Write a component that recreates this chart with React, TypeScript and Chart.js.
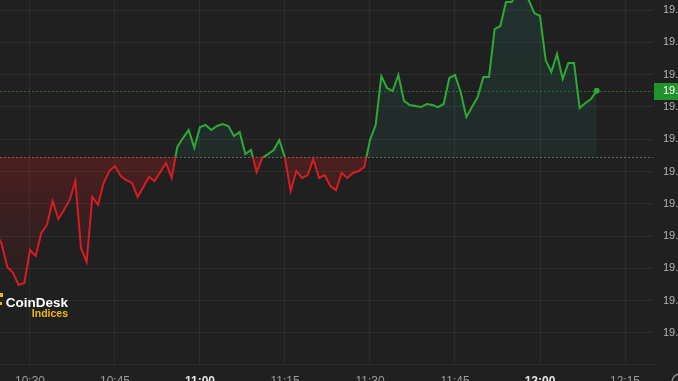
import React, { useEffect, useRef } from "react";
import { Chart, registerables } from "chart.js";

Chart.register(...registerables);

// ---- data ----
const times = [
  "10:24", "10:25", "10:26", "10:27", "10:28", "10:29", "10:30", "10:31", "10:32", "10:33",
  "10:34", "10:35", "10:36", "10:37", "10:38", "10:39", "10:40", "10:41", "10:42", "10:43",
  "10:44", "10:45", "10:46", "10:47", "10:48", "10:49", "10:50", "10:51", "10:52", "10:53",
  "10:54", "10:55", "10:56", "10:57", "10:58", "10:59", "11:00", "11:01", "11:02", "11:03",
  "11:04", "11:05", "11:06", "11:07", "11:08", "11:09", "11:10", "11:11", "11:12", "11:13",
  "11:14", "11:15", "11:16", "11:17", "11:18", "11:19", "11:20", "11:21", "11:22", "11:23",
  "11:24", "11:25", "11:26", "11:27", "11:28", "11:29", "11:30", "11:31", "11:32", "11:33",
  "11:34", "11:35", "11:36", "11:37", "11:38", "11:39", "11:40", "11:41", "11:42", "11:43",
  "11:44", "11:45", "11:46", "11:47", "11:48", "11:49", "11:50", "11:51", "11:52", "11:53",
  "11:54", "11:55", "11:56", "11:57", "11:58", "11:59", "12:00", "12:01", "12:02", "12:03",
  "12:04", "12:05", "12:06", "12:07", "12:08", "12:09", "12:10",
];

const prices = [
  19.4625, 19.4551, 19.4409, 19.4372, 19.4297, 19.431, 19.4514, 19.4477, 19.4619, 19.4669,
  19.4817, 19.4706, 19.4762, 19.4824, 19.4941, 19.4526, 19.444, 19.4842, 19.4793, 19.4929,
  19.5003, 19.5034, 19.4972, 19.4947, 19.4929, 19.4842, 19.4904, 19.4966, 19.4941, 19.4997,
  19.5053, 19.496, 19.5152, 19.5207, 19.5257, 19.5146, 19.5276, 19.5288, 19.5257, 19.5282,
  19.5294, 19.5282, 19.522, 19.5245, 19.5108, 19.5133, 19.4997, 19.5084, 19.5108, 19.5133,
  19.5195, 19.5084, 19.4879, 19.5003, 19.496, 19.4978, 19.5077, 19.496, 19.4978, 19.491,
  19.4885, 19.4991, 19.496, 19.4991, 19.5003, 19.5028, 19.5195, 19.5288, 19.5591, 19.5517,
  19.5498, 19.5598, 19.5437, 19.5412, 19.5406, 19.5399, 19.5418, 19.5412, 19.5399, 19.5418,
  19.5579, 19.5598, 19.5492, 19.5337, 19.5399, 19.5461, 19.5585, 19.5585, 19.5882, 19.5901,
  19.605, 19.605, 19.6111, 19.6099, 19.6062, 19.5981, 19.5963, 19.569, 19.5616, 19.5728,
  19.5573, 19.5672, 19.5672, 19.5393, 19.5424, 19.5449, 19.55,
];

const timeTicks = ["10:30", "10:45", "11:00", "11:15", "11:30", "11:45", "12:00", "12:15"];
const priceTicks = [19.4, 19.42, 19.44, 19.46, 19.48, 19.5, 19.52, 19.54, 19.56, 19.58, 19.6];
const prevClose = 19.509;
const lastPrice = 19.55;

// ---- styles ----
const BG = "rgb(32,32,32)";
const GRID = "rgba(255,255,255,0.055)";
const GREEN = "rgb(44,170,52)";
const RED = "rgb(214,28,36)";
const TICK = "#9c9c9c";
const FONT = "'Liberation Sans', Arial, sans-serif";

const toMin = (t: string) => {
  const [h, m] = t.split(":").map(Number);
  return h * 60 + m;
};

const lineGradient = (chart: any, stops: (s: number) => [number, string][]) => {
  const area = chart.chartArea;
  if (!area) return null;
  const y = chart.scales.y.getPixelForValue(prevClose);
  let s = (y - area.top) / (area.bottom - area.top);
  s = Math.max(0, Math.min(1, s));
  const g = chart.ctx.createLinearGradient(0, area.top, 0, area.bottom);
  stops(s).forEach(([o, c]) => g.addColorStop(o, c));
  return g;
};

const overlayPlugin = {
  id: "overlay",
  beforeDatasetsDraw(chart: any) {
    const { ctx, chartArea, scales } = chart;
    ctx.save();
    ctx.lineWidth = 1;
    // previous close line
    const yb = Math.round(scales.y.getPixelForValue(prevClose)) + 0.5;
    ctx.setLineDash([2, 2]);
    ctx.strokeStyle = "rgba(150,150,150,0.6)";
    ctx.beginPath();
    ctx.moveTo(chartArea.left, yb);
    ctx.lineTo(chartArea.right, yb);
    ctx.stroke();
    // last price line
    const yl = Math.round(scales.y.getPixelForValue(lastPrice)) + 0.5;
    ctx.strokeStyle = "rgba(44,170,52,0.55)";
    ctx.beginPath();
    ctx.moveTo(chartArea.left, yl);
    ctx.lineTo(chartArea.right, yl);
    ctx.stroke();
    ctx.restore();
  },
  afterDraw(chart: any) {
    const { ctx, chartArea, scales, width, height } = chart;
    ctx.save();
    // price badge
    const yl = scales.y.getPixelForValue(lastPrice);
    ctx.fillStyle = "rgb(34,146,44)";
    ctx.fillRect(chartArea.right + 1, Math.round(yl) - 8, 40, 17);
    ctx.fillStyle = "#ffffff";
    ctx.font = `11px ${FONT}`;
    ctx.textAlign = "left";
    ctx.textBaseline = "middle";
    ctx.fillText(lastPrice.toFixed(2), chartArea.right + 10, yl + 0.5);
    // CoinDesk Indices logo
    ctx.fillStyle = "#f2b705";
    ctx.fillRect(0, 293, 3, 4);
    ctx.fillRect(0, 302, 2, 3);
    ctx.textAlign = "right";
    ctx.textBaseline = "alphabetic";
    ctx.fillStyle = "#ffffff";
    ctx.font = `bold 13.5px ${FONT}`;
    ctx.fillText("CoinDesk", 68, 307);
    ctx.fillStyle = "#f2b705";
    ctx.font = `bold 10.5px ${FONT}`;
    ctx.fillText("Indices", 68, 317);
    // partial logo at bottom right
    ctx.strokeStyle = "#8a8a8a";
    ctx.lineWidth = 1.5;
    ctx.beginPath();
    ctx.arc(width + 2, height + 1, 8, 0, Math.PI * 2);
    ctx.stroke();
    ctx.restore();
  },
};

export default function App() {
  const ref = useRef<HTMLCanvasElement | null>(null);

  useEffect(() => {
    if (!ref.current) return;
    const data = times.map((t, i) => ({ x: toMin(t), y: prices[i] }));
    const start = toMin("10:30");
    const chart = new Chart(ref.current, {
      type: "line",
      data: {
        datasets: [
          {
            data,
            borderWidth: 2,
            tension: 0,
            borderColor: (c: any) =>
              lineGradient(c.chart, (s) => [
                [0, GREEN],
                [s, GREEN],
                [s, RED],
                [1, RED],
              ]) || GREEN,
            backgroundColor: (c: any) =>
              lineGradient(c.chart, (s) => [
                [0, "rgba(40,165,135,0.13)"],
                [s, "rgba(40,165,135,0.09)"],
                [s, "rgba(200,30,30,0.26)"],
                [Math.min(1, s + (1 - s) * 0.65), "rgba(200,30,30,0.03)"],
                [1, "rgba(200,30,30,0.0)"],
              ]) || "transparent",
            fill: { value: prevClose },
            pointRadius: (c: any) => (c.dataIndex === prices.length - 1 ? 3 : 0),
            pointBackgroundColor: GREEN,
            pointBorderWidth: 0,
            pointHoverRadius: 0,
          },
        ],
      },
      options: {
        animation: false,
        responsive: false,
        devicePixelRatio: 1,
        layout: { padding: 0, autoPadding: false },
        plugins: { legend: { display: false }, tooltip: { enabled: false } },
        scales: {
          x: {
            type: "linear",
            min: start - 5.29,
            max: start + 109.94,
            afterBuildTicks: (s: any) => {
              s.ticks = timeTicks.map((t) => ({ value: toMin(t) }));
            },
            afterFit: (s: any) => {
              s.height = 17;
              s.paddingLeft = 0;
              s.paddingRight = 0;
              s.paddingTop = 0;
              s.paddingBottom = 0;
            },
            grid: { color: GRID, drawTicks: false },
            border: { display: true, color: GRID },
            ticks: {
              padding: 10,
              maxRotation: 0,
              autoSkip: false,
              callback: (v: any) => {
                const m = Number(v);
                const h = Math.floor(m / 60);
                const mm = m % 60;
                return `${h}:${mm < 10 ? "0" : ""}${mm}`;
              },
              color: (c: any) => (c.tick && c.tick.value % 60 === 0 ? "#e6e6e6" : TICK),
              font: (c: any) => ({
                family: FONT,
                size: 12,
                weight: c.tick && c.tick.value % 60 === 0 ? "bold" : "normal",
              }),
            },
          },
          y: {
            type: "linear",
            position: "right",
            min: 19.3808,
            max: 19.6062,
            afterBuildTicks: (s: any) => {
              s.ticks = priceTicks.map((v) => ({ value: v }));
            },
            afterFit: (s: any) => {
              s.width = 25;
              s.paddingLeft = 0;
              s.paddingRight = 0;
              s.paddingTop = 0;
              s.paddingBottom = 0;
            },
            grid: { color: GRID, drawTicks: false },
            border: { display: false },
            ticks: {
              padding: 10,
              color: "#b4b4b4",
              font: { family: FONT, size: 11 },
              callback: (v: any) => Number(v).toFixed(2),
            },
          },
        },
      },
      plugins: [overlayPlugin],
    } as any);
    return () => chart.destroy();
  }, []);

  return (
    <div
      style={{
        position: "fixed",
        left: 0,
        top: 0,
        width: 678,
        height: 381,
        overflow: "hidden",
        background: BG,
      }}
    >
      <canvas ref={ref} width={678} height={381} style={{ display: "block", width: 678, height: 381 }} />
    </div>
  );
}
